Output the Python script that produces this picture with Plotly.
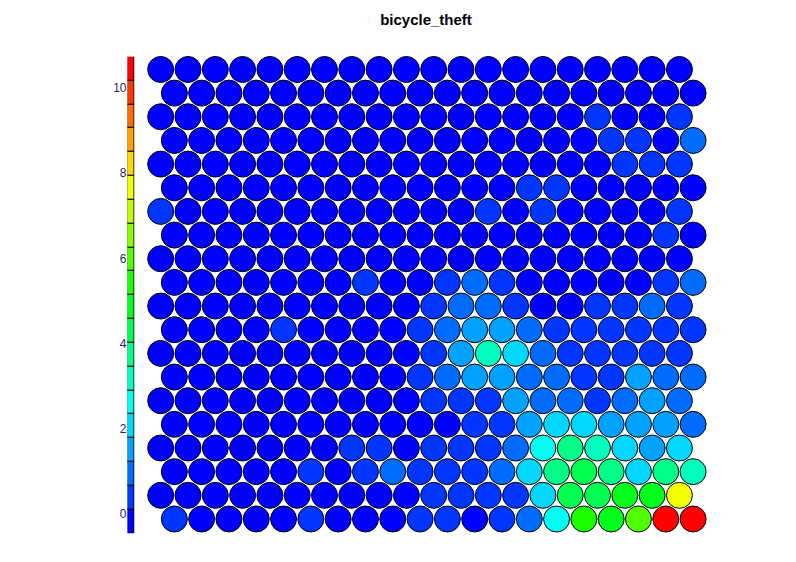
import plotly.graph_objects as go

# ---------------- data ----------------
TITLE = "bicycle_theft"

# Estimated property value of each SOM unit, rows listed from top (row 1) to bottom (row 20)
row01 = [0.0]*20
row02 = [0.0]*20
row03 = [0.0]*16 + [0.4, 0.0, 0.0, 0.4]
row04 = [0.0]*16 + [0.4, 0.4, 0.0, 0.95]
row05 = [0.0]*17 + [0.4, 0.4, 0.4]
row06 = [0.0]*13 + [0.4, 0.4, 0.0, 0.0, 0.0, 0.0, 0.0]
row07 = [0.4] + [0.0]*11 + [0.4, 0.0, 0.4, 0.0, 0.0, 0.0, 0.0, 0.4]
row08 = [0.0]*18 + [0.4, 0.0]
row09 = [0.0]*20
row10 = [0.0, 0.0, 0.0, 0.0, 0.0, 0.0, 0.0, 0.4, 0.0, 0.0, 0.4, 0.95, 0.4, 0.0, 0.0, 0.0, 0.0, 0.0, 0.4, 0.95]
row11 = [0.0]*10 + [0.4, 0.95, 0.95, 0.4, 0.0, 0.0, 0.4, 0.4, 0.95, 0.4]
row12 = [0.0, 0.0, 0.0, 0.0, 0.4, 0.0, 0.0, 0.0, 0.0, 0.4, 0.95, 1.5, 1.5, 0.95, 0.4, 0.4, 0.4, 0.4, 0.4, 0.4]
row13 = [0.0]*10 + [0.4, 1.5, 3.2, 2.1, 0.95, 0.4, 0.4, 0.4, 0.4, 0.4]
row14 = [0.0]*9 + [0.4, 0.95, 1.5, 1.5, 0.95, 0.95, 0.4, 0.4, 1.5, 0.95, 0.95]
row15 = [0.0]*10 + [0.4, 0.4, 0.4, 1.5, 0.95, 0.95, 0.4, 0.95, 1.5, 0.95]
row16 = [0.0]*11 + [0.4, 0.4, 1.5, 2.1, 2.1, 1.5, 1.5, 1.5, 0.95]
row17 = [0.0]*7 + [0.4, 0.4, 0.0, 0.4, 0.4, 0.4, 0.95, 2.6, 3.7, 3.2, 2.1, 1.5, 2.1]
row18 = [0.0, 0.0, 0.0, 0.0, 0.0, 0.4, 0.0, 0.4, 0.95, 0.4, 0.4, 0.4, 0.95, 2.1, 3.7, 4.3, 3.7, 2.1, 3.7, 3.2]
row19 = [0.0]*10 + [0.4, 0.4, 0.4, 0.4, 2.1, 4.3, 4.3, 4.9, 4.9, 7.7]
row20 = [0.4, 0.0, 0.0, 0.0, 0.0, 0.4, 0.0, 0.0, 0.0, 0.4, 0.4, 0.0, 0.4, 0.95, 2.6, 5.4, 4.9, 6.0, 10.5, 10.5]

ROWS_TOP_TO_BOTTOM = [row01, row02, row03, row04, row05, row06, row07, row08, row09, row10,
                      row11, row12, row13, row14, row15, row16, row17, row18, row19, row20]

KEY_MIN = -0.45
KEY_MAX = 10.73
N_COLORS = 20
KEY_TICKS = [0, 2, 4, 6, 8, 10]
PALETTE_ANCHORS = [(0, 0, 255), (0, 255, 255), (0, 255, 0), (255, 255, 0), (255, 0, 0)]

# ---------------- palette (like colorRampPalette(...)(20)) ----------------
def ramp(anchors, n):
    out = []
    segs = len(anchors) - 1
    for i in range(n):
        t = i / (n - 1) * segs
        k = min(int(t), segs - 1)
        f = t - k
        a, b = anchors[k], anchors[k + 1]
        c = [round(a[j] + (b[j] - a[j]) * f) for j in range(3)]
        out.append("rgb(%d,%d,%d)" % tuple(c))
    return out

palette = ramp(PALETTE_ANCHORS, N_COLORS)
stepped = []
for i, c in enumerate(palette):
    stepped.append([i / N_COLORS, c])
    stepped.append([(i + 1) / N_COLORS, c])

# ---------------- hexagonal grid positions ----------------
n_rows = len(ROWS_TOP_TO_BOTTOM)
xs, ys, vs = [], [], []
for k, row in enumerate(ROWS_TOP_TO_BOTTOM):
    r = n_rows - 1 - k  # row index from bottom
    for i, v in enumerate(row):
        xs.append(i + (0.5 if r % 2 == 0 else 0.0))
        ys.append(r * 0.8660254)
        vs.append(v)

fig = go.Figure()
fig.add_trace(go.Scatter(
    x=xs, y=ys, mode="markers",
    marker=dict(size=26, color=vs, colorscale=stepped, cmin=KEY_MIN, cmax=KEY_MAX,
                showscale=False, line=dict(color="black", width=1)),
    hovertemplate="%{marker.color}<extra></extra>",
    cliponaxis=False,
    xaxis="x", yaxis="y",
))

# colour key drawn as stacked segments
step = (KEY_MAX - KEY_MIN) / N_COLORS
bases = [KEY_MIN + i * step for i in range(N_COLORS)]
fig.add_trace(go.Bar(
    x=[0] * N_COLORS, y=[step] * N_COLORS, base=bases, width=1,
    marker=dict(color=palette, line=dict(color="black", width=1)),
    xaxis="x2", yaxis="y2", hoverinfo="skip", showlegend=False,
))

# page has an 8px body margin: size figure to the visible area and shift by 8px
OFF = 8
W, H = 796 - OFF, 562 - OFF
L, R, T, B = 100 - OFF, 86, 50 - OFF, 27
pw = W - L - R
ph = H - T - B

fig.update_layout(
    width=W, height=H,
    margin=dict(l=L, r=R, t=T, b=B, autoexpand=False),
    paper_bgcolor="white", plot_bgcolor="white",
    showlegend=False, bargap=0, barmode="overlay",
    title=dict(text="<b>" + TITLE + "</b>", x=(426 - OFF) / W, xanchor="center", xref="container",
               y=1 - (20 - OFF) / H, yanchor="middle", yref="container",
               font=dict(family="Liberation Sans, Arial, sans-serif", size=15, color="black")),
    xaxis=dict(domain=[45 / pw, 1], range=[-0.575, 20.12], visible=False, fixedrange=True),
    yaxis=dict(domain=[0, 1], range=[-0.586, 17.167], visible=False, fixedrange=True),
    xaxis2=dict(domain=[27.5 / pw, 34.5 / pw], range=[-0.58, 0.58], visible=False,
                anchor="y2", fixedrange=True),
    yaxis2=dict(domain=[(535 - 533.3) / ph, (535 - 56.7) / ph], range=[KEY_MIN, KEY_MAX],
                anchor="x2", side="left", tickvals=KEY_TICKS, ticks="", showgrid=False,
                zeroline=False, showline=False, ticklabelstandoff=0,
                tickfont=dict(family="Liberation Sans, Arial, sans-serif", size=12, color="#2a2260"),
                fixedrange=True),
    font=dict(family="Liberation Sans, Arial, sans-serif"),
)

fig.write_html("out.html")
